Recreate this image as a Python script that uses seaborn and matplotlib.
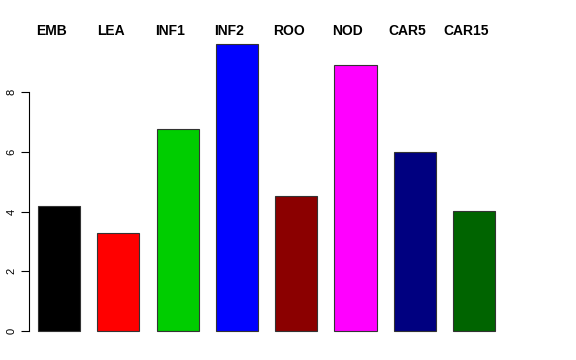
import matplotlib
matplotlib.use("Agg")
import matplotlib.pyplot as plt
import seaborn as sns
import pandas as pd

# data
tissues = ["EMB", "LEA", "INF1", "INF2", "ROO", "NOD", "CAR5", "CAR15"]
values = [4.18, 3.28, 6.76, 9.63, 4.52, 8.90, 6.00, 4.02]
colors = ["#000000", "#FF0000", "#00CD00", "#0000FF", "#8B0000", "#FF00FF", "#000080", "#006400"]

df = pd.DataFrame({"tissue": tissues, "value": values})

sns.set_style("white")
plt.rcParams["font.family"] = ["Liberation Sans", "DejaVu Sans"]

W, H = 576, 360
fig = plt.figure(figsize=(W / 100, H / 100), dpi=100)
# axes box in pixels: left 29, right 503, top 32, bottom 342.5
ax = fig.add_axes([29 / W, 1 - 342.5 / H, (503 - 29) / W, (342.5 - 32) / H])

sns.barplot(data=df, x="tissue", y="value", hue="tissue", palette=colors,
            width=0.71, edgecolor="#333333", linewidth=0.8, legend=False,
            saturation=1, ax=ax)

ax.set_xlim(-0.506, 7.487)
ax.set_ylim(-0.385, 10.02)
ax.set_xlabel("")
ax.set_ylabel("")
ax.set_xticks([])
ax.set_yticks([0, 2, 4, 6, 8])
ax.set_yticklabels(["0", "2", "4", "6", "8"], rotation=90, va="center", fontsize=8,
                   color="black")
ax.tick_params(axis="y", length=6, width=0.8, pad=3, left=True, color="black")

for s in ["top", "right", "bottom"]:
    ax.spines[s].set_visible(False)
ax.spines["left"].set_bounds(0, 8)
ax.spines["left"].set_linewidth(0.8)
ax.spines["left"].set_color("black")

# tissue names above the plot
for i, name in enumerate(tissues):
    ax.text(i - 0.13, 10.07, name, ha="center", va="center", fontsize=10,
            fontweight="bold", color="black", clip_on=False)

fig.savefig("out.png", dpi=100)
